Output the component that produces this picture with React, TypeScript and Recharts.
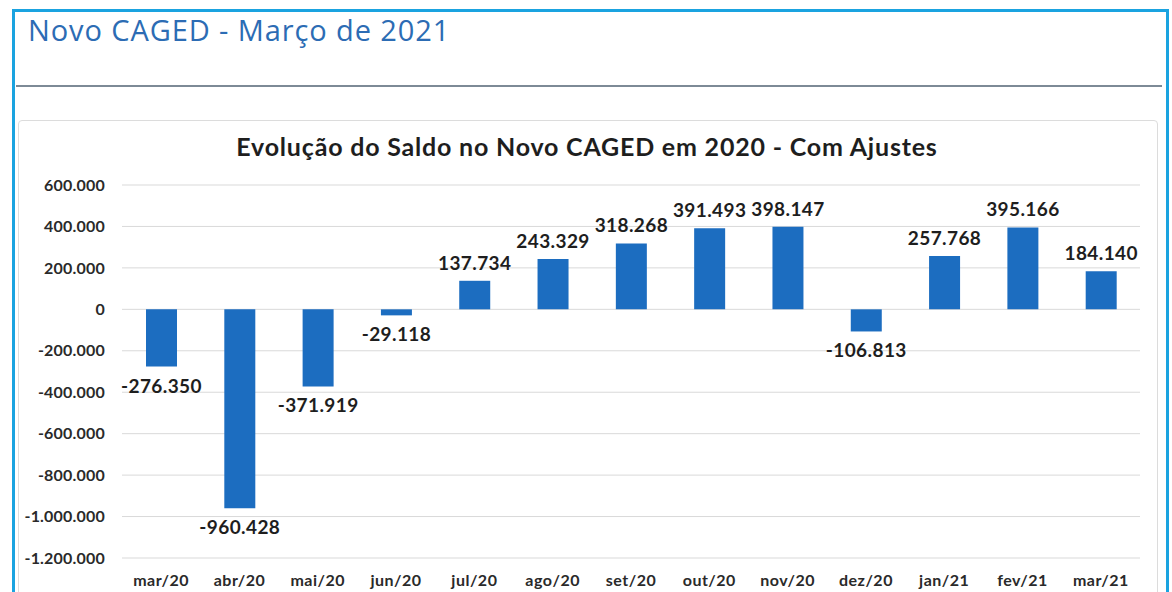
import { BarChart, Bar, XAxis, YAxis, CartesianGrid, LabelList } from "recharts";

const months = [
  "mar/20",
  "abr/20",
  "mai/20",
  "jun/20",
  "jul/20",
  "ago/20",
  "set/20",
  "out/20",
  "nov/20",
  "dez/20",
  "jan/21",
  "fev/21",
  "mar/21",
];

const saldo = [
  -276350, -960428, -371919, -29118, 137734, 243329, 318268, 391493, 398147,
  -106813, 257768, 395166, 184140,
];

const yTicks = [600000, 400000, 200000, 0, -200000, -400000, -600000, -800000, -1000000, -1200000];

const data = months.map((m, i) => ({ name: m, saldo: saldo[i] }));

const BLUE = "#1c6dc0";
const FONT = "Lato, 'Open Sans', sans-serif";

// 1234567 -> "1.234.567"
const fmt = (v: number) => {
  const s = Math.abs(Math.round(v))
    .toString()
    .replace(/\B(?=(\d{3})+(?!\d))/g, ".");
  return v < 0 ? "-" + s : s;
};

const ValueLabel = (props: any) => {
  const { x, y, width, height, value } = props;
  const top = Math.min(y, y + height);
  const bottom = Math.max(y, y + height);
  const ly = value >= 0 ? top - 11 : bottom + 26;
  return (
    <text
      x={x + width / 2}
      y={ly}
      textAnchor="middle"
      fontFamily={FONT}
      fontWeight={700}
      fontSize={19}
      letterSpacing={0.4}
      fill="#1e1e1e"
    >
      {fmt(value)}
    </text>
  );
};

export default function App() {
  return (
    <div
      style={{
        position: "absolute",
        left: 0,
        top: 0,
        width: 1172,
        height: 592,
        overflow: "hidden",
        background: "#fff",
      }}
    >
      {/* outer cyan frame */}
      <div
        style={{
          position: "absolute",
          left: 12,
          top: 9,
          width: 1151,
          height: 620,
          border: "3px solid #1aa3e0",
          borderBottom: "none",
        }}
      />
      <div
        style={{
          position: "absolute",
          left: 28,
          top: 10,
          fontFamily: "'Open Sans', sans-serif",
          fontSize: 29,
          letterSpacing: 0.9,
          color: "#2c6cb4",
          whiteSpace: "nowrap",
        }}
      >
        Novo CAGED - Março de 2021
      </div>
      <div
        style={{
          position: "absolute",
          left: 16,
          top: 85,
          width: 1146,
          height: 2,
          background: "#7d8a96",
        }}
      />
      {/* chart panel */}
      <div
        style={{
          position: "absolute",
          left: 18,
          top: 120,
          width: 1138,
          height: 500,
          border: "1px solid #dcdcdc",
          borderRadius: 4,
        }}
      />
      <div
        style={{
          position: "absolute",
          left: 18,
          top: 131,
          width: 1138,
          textAlign: "center",
          fontFamily: FONT,
          fontWeight: 700,
          fontSize: 25,
          letterSpacing: 0.8,
          color: "#1e1e1e",
          whiteSpace: "nowrap",
        }}
      >
        Evolução do Saldo no Novo CAGED em 2020 - Com Ajustes
      </div>
      <div style={{ position: "absolute", left: 20, top: 170 }}>
        <BarChart
          width={1130}
          height={420}
          data={data}
          margin={{ top: 15, right: 10, left: 22, bottom: 0 }}
        >
          <CartesianGrid vertical={false} stroke="#d9d9d9" />
          <XAxis
            dataKey="name"
            axisLine={false}
            tickLine={false}
            tickMargin={11}
            height={32}
            interval={0}
            tick={{ fontFamily: FONT, fontWeight: 700, fontSize: 16, letterSpacing: 0.5, fill: "#2a2a2a" }}
          />
          <YAxis
            width={80}
            domain={[-1200000, 600000]}
            ticks={yTicks}
            axisLine={false}
            tickLine={false}
            tickMargin={11}
            interval={0}
            tickFormatter={fmt}
            tick={{ fontFamily: FONT, fontWeight: 700, fontSize: 16, letterSpacing: 0.2, fill: "#2a2a2a" }}
          />
          <Bar dataKey="saldo" fill={BLUE} barSize={31} isAnimationActive={false}>
            <LabelList dataKey="saldo" content={ValueLabel} />
          </Bar>
        </BarChart>
      </div>
    </div>
  );
}
